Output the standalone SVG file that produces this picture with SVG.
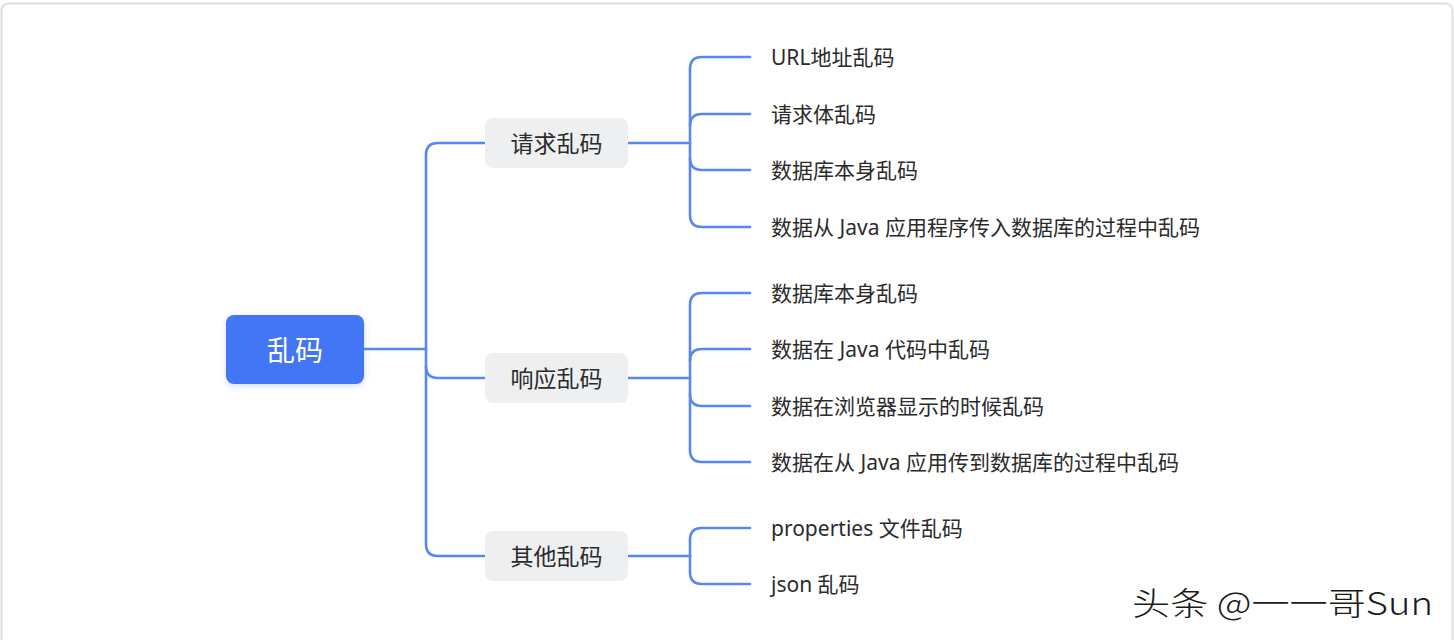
<svg xmlns="http://www.w3.org/2000/svg" width="1454" height="640" viewBox="0 0 1454 640">
<style>
.frame{fill:#fff;stroke:#dedee5;stroke-width:2}
.line{fill:none;stroke:#5787f3;stroke-width:2.6;stroke-linecap:round}
.root{fill:#4376f5}
.rootT{fill:#fff;font-family:"Noto Sans CJK SC","Noto Sans",sans-serif;font-size:28px;text-anchor:middle;dominant-baseline:central}
.child{fill:#eeeff1}
.childT{fill:#2b2b2b;font-family:"Noto Sans CJK SC","Noto Sans",sans-serif;font-size:23px;text-anchor:middle;dominant-baseline:central}
.leafT{fill:#2b2b2b;font-family:"Noto Sans","Noto Sans CJK SC",sans-serif;font-size:21px;dominant-baseline:central}
.wm{fill:#1a1a1a;font-family:"Noto Sans CJK SC","Liberation Sans",sans-serif;font-size:32px;font-weight:300}
</style>
<defs>
<filter id="sh" x="-20%" y="-20%" width="140%" height="150%">
<feDropShadow dx="0" dy="2" stdDeviation="3" flood-color="#4376f5" flood-opacity="0.25"/>
</filter>
</defs>
<rect class="frame" x="1.5" y="3.5" width="1451" height="645" rx="7"/>
<g id="connectors">
<path class="line" d="M364,349 H426"/>
<path class="line" d="M485,143 H438 Q426,143 426,155 V544 Q426,556 438,556 H485"/>
<path class="line" d="M426,366 Q426,378 438,378 H485"/>
<path class="line" d="M628,143 H690"/>
<path class="line" d="M750,57 H702 Q690,57 690,69 V215 Q690,227 702,227 H750"/>
<path class="line" d="M690,126 Q690,114 702,114 H750"/>
<path class="line" d="M690,158 Q690,170 702,170 H750"/>
<path class="line" d="M628,378 H690"/>
<path class="line" d="M750,293 H702 Q690,293 690,305 V450 Q690,462 702,462 H750"/>
<path class="line" d="M690,361 Q690,349 702,349 H750"/>
<path class="line" d="M690,394 Q690,406 702,406 H750"/>
<path class="line" d="M628,556 H690"/>
<path class="line" d="M750,528 H702 Q690,528 690,540 V572 Q690,584 702,584 H750"/>
</g>
<g id="root"><rect class="root" x="226" y="315" width="138" height="69" rx="8" filter="url(#sh)"/><text class="rootT" x="295" y="349">乱码</text></g>
<g id="c1"><rect class="child" x="485" y="118" width="143" height="50" rx="8"/><text class="childT" x="556.5" y="142">请求乱码</text></g>
<g id="c2"><rect class="child" x="485" y="353" width="143" height="50" rx="8"/><text class="childT" x="556.5" y="377">响应乱码</text></g>
<g id="c3"><rect class="child" x="485" y="531" width="143" height="50" rx="8"/><text class="childT" x="556.5" y="555">其他乱码</text></g>
<g id="l1"><text class="leafT" x="771" y="57">URL地址乱码</text></g>
<g id="l2"><text class="leafT" x="771" y="114">请求体乱码</text></g>
<g id="l3"><text class="leafT" x="771" y="170">数据库本身乱码</text></g>
<g id="l4"><text class="leafT" x="771" y="227">数据从 Java 应用程序传入数据库的过程中乱码</text></g>
<g id="l5"><text class="leafT" x="771" y="293">数据库本身乱码</text></g>
<g id="l6"><text class="leafT" x="771" y="349">数据在 Java 代码中乱码</text></g>
<g id="l7"><text class="leafT" x="771" y="406">数据在浏览器显示的时候乱码</text></g>
<g id="l8"><text class="leafT" x="771" y="462">数据在从 Java 应用传到数据库的过程中乱码</text></g>
<g id="l9"><text class="leafT" x="771" y="528">properties 文件乱码</text></g>
<g id="l10"><text class="leafT" x="771" y="584">json 乱码</text></g>
<text class="wm" x="1132" y="615" textLength="301" lengthAdjust="spacingAndGlyphs">头条 @一一哥Sun</text>
</svg>
